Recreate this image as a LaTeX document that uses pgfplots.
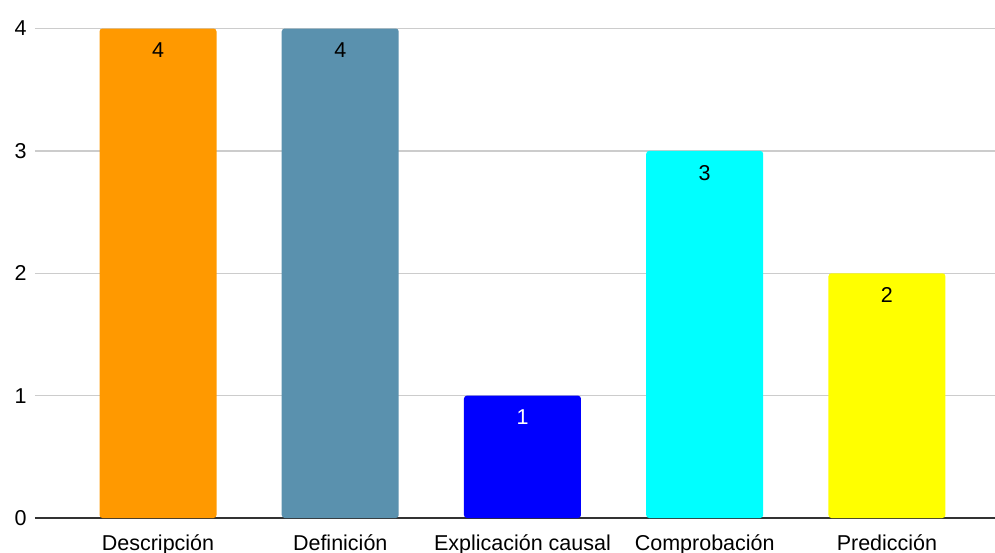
\documentclass[border=0pt]{standalone}
\usepackage{pgfplots}
\pgfplotsset{compat=1.18}
\usepackage{fontspec}
\setmainfont{Liberation Sans}

\definecolor{cOrange}{HTML}{FF9900}
\definecolor{cSteel}{HTML}{5A91AE}
\definecolor{cBlue}{HTML}{0000FF}
\definecolor{cCyan}{HTML}{00FFFF}
\definecolor{cYellow}{HTML}{FFFF00}
\definecolor{cGrid}{HTML}{CCCCCC}
\definecolor{cAxis}{HTML}{333333}

\begin{document}
\begin{tikzpicture}
\useasboundingbox (0,0) rectangle (995pt,552pt);
\begin{axis}[
  at={(35pt,34pt)}, anchor=south west,
  scale only axis,
  width=960pt, height=489.5pt,
  xmin=-0.675, xmax=4.593,
  ymin=0, ymax=4,
  xtick={0,1,2,3,4},
  xticklabels={Descripción, Definición, Explicación causal, Comprobación, Predicción},
  ytick={0,1,2,3,4},
  axis x line*=bottom,
  axis y line*=left,
  y axis line style={draw=none},
  x axis line style={draw=cAxis, line width=1.6pt},
  ymajorgrids,
  grid style={draw=cGrid, line width=1.3pt},
  major tick length=0pt,
  tick style={draw=none},
  /pgf/number format/assume math mode=true,
  ticklabel style={font=\fontsize{21.5}{25}\selectfont, text=black},
  x tick label style={yshift=-13pt},
  y tick label style={xshift=-5pt},
  ybar, bar width=117pt, bar shift=0pt,
  nodes near coords,
  every node near coord/.append style={anchor=north, yshift=-11pt, font=\fontsize{21.5}{25}\selectfont, text=black},
]
\addplot[fill=cOrange, draw=none, rounded corners=3pt] coordinates {(0,4)};
\addplot[fill=cSteel, draw=none, rounded corners=3pt] coordinates {(1,4)};
\addplot[fill=cBlue, draw=none, rounded corners=3pt, every node near coord/.append style={text=white}] coordinates {(2,1)};
\addplot[fill=cCyan, draw=none, rounded corners=3pt] coordinates {(3,3)};
\addplot[fill=cYellow, draw=none, rounded corners=3pt] coordinates {(4,2)};
\end{axis}
\end{tikzpicture}
\end{document}
